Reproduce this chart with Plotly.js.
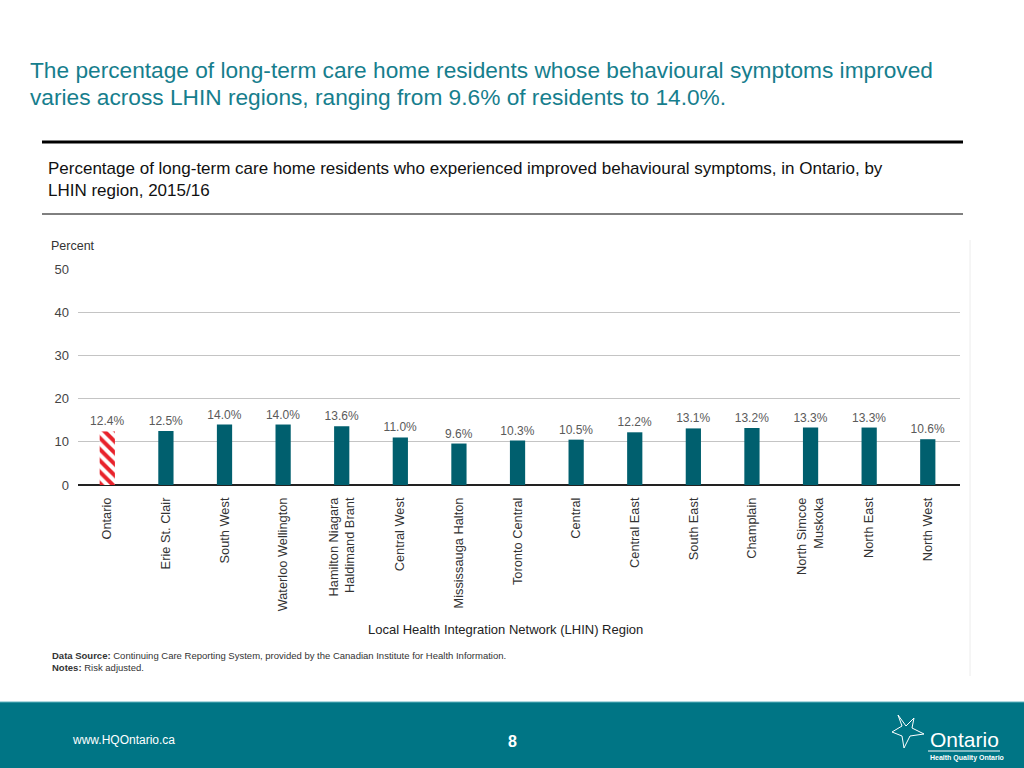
<!DOCTYPE html>
<html>
<head>
<meta charset="utf-8">
<script src="https://cdn.plot.ly/plotly-3.0.1.min.js"></script>
<style>html,body{margin:0;padding:0;background:#fff;}#chart{width:1024px;height:768px;}</style>
</head>
<body>
<div id="chart"></div>
<script>
const categories = ["Ontario","Erie St. Clair","South West","Waterloo Wellington","Hamilton Niagara<br>Haldimand Brant","Central West","Mississauga Halton","Toronto Central","Central","Central East","South East","Champlain","North Simcoe<br>Muskoka","North East","North West"];
const values = [12.4,12.5,14.0,14.0,13.6,11.0,9.6,10.3,10.5,12.2,13.1,13.2,13.3,13.3,10.6];
const valueLabels = ["12.4%","12.5%","14.0%","14.0%","13.6%","11.0%","9.6%","10.3%","10.5%","12.2%","13.1%","13.2%","13.3%","13.3%","10.6%"];
const yTicks = [0,10,20,30,40,50];
const titleLines = ["The percentage of long-term care home residents whose behavioural symptoms improved",
                    "varies across LHIN regions, ranging from 9.6% of residents to 14.0%."];

const L = 78, R = 960, T = 269, B = 485;
const px = x => (x - L) / (R - L);
const py = y => (B - y) / (B - T);

const font = "Liberation Sans, Arial, sans-serif";
const teal = "#005f6e";
const labelFont = {family: font, size: 12, color: "#5a5a5a"};

const ontarioTrace = {
  type: "bar",
  x: categories.slice(0, 1),
  y: values.slice(0, 1),
  text: valueLabels.slice(0, 1),
  textposition: "outside", constraintext: "none", cliponaxis: false,
  textfont: labelFont,
  width: 0.26,
  marker: {
    color: "#ffffff",
    line: {width: 0},
    pattern: {shape: "\\", fillmode: "replace", fgcolor: "#e8222b", bgcolor: "#ffffff", size: 8, solidity: 0.5}
  },
  hoverinfo: "skip"
};

const regionTrace = {
  type: "bar",
  x: categories.slice(1),
  y: values.slice(1),
  text: valueLabels.slice(1),
  textposition: "outside", constraintext: "none", cliponaxis: false,
  textfont: labelFont,
  width: 0.26,
  marker: {color: teal, line: {width: 0}},
  hoverinfo: "skip"
};

const layout = {
  width: 1024, height: 768,
  margin: {l: L, r: 1024 - R, t: T, b: 768 - B, pad: 0},
  paper_bgcolor: "#ffffff", plot_bgcolor: "#ffffff",
  showlegend: false,
  barmode: "overlay",
  font: {family: font, color: "#333333"},
  xaxis: {
    type: "category",
    categoryorder: "array", categoryarray: categories,
    range: [-0.5, 14.55],
    tickangle: -90,
    tickfont: {family: font, size: 12.8, color: "#333333"},
    ticks: "", ticklabelstandoff: 9,
    showgrid: false, zeroline: false, showline: false,
    automargin: false, fixedrange: true
  },
  yaxis: {
    range: [0, 50],
    tickvals: yTicks,
    ticktext: yTicks.map(String),
    tickfont: {family: font, size: 13, color: "#444444"},
    ticks: "", ticklabelstandoff: 8,
    showgrid: true, gridcolor: "#c4c4c4", gridwidth: 1,
    zeroline: true, zerolinecolor: "#222222", zerolinewidth: 2,
    showline: false, automargin: false, fixedrange: true
  },
  shapes: [
    {type: "line", xref: "paper", yref: "paper", x0: px(42), x1: px(963), y0: py(142), y1: py(142), line: {color: "#000000", width: 3}},
    {type: "line", xref: "paper", yref: "paper", x0: px(42), x1: px(963), y0: py(214), y1: py(214), line: {color: "#000000", width: 1}},
    {type: "line", xref: "paper", yref: "paper", x0: px(970), x1: px(970), y0: py(240), y1: py(676), line: {color: "#ececec", width: 1}},
    {type: "rect", xref: "paper", yref: "paper", x0: px(-2), x1: px(1026), y0: py(702), y1: py(770), fillcolor: "#007585", line: {width: 0}, layer: "below"},
    {type: "line", xref: "paper", yref: "paper", x0: px(0), x1: px(1024), y0: py(702), y1: py(702), line: {color: "#5fb3bf", width: 1}},
    {type: "line", xref: "paper", yref: "paper", x0: px(928), x1: px(1000), y0: py(751), y1: py(751), line: {color: "#ffffff", width: 1}},
    {type: "path", xref: "paper", yref: "paper",
     path: "M " + px(898) + "," + py(715) + " L " + px(906) + "," + py(726) + " L " + px(914) + "," + py(718) +
           " L " + px(912) + "," + py(728) + " L " + px(924) + "," + py(734) + " L " + px(910) + "," + py(736) +
           " L " + px(904) + "," + py(748) + " L " + px(902) + "," + py(736) + " L " + px(892) + "," + py(732) +
           " L " + px(902) + "," + py(726) + " Z",
     line: {color: "#ffffff", width: 1}, fillcolor: "rgba(0,0,0,0)"}
  ],
  annotations: [
    {text: titleLines[0], xref: "paper", yref: "paper", x: px(28), y: py(70), xanchor: "left", yanchor: "middle", align: "left", showarrow: false,
     font: {family: font, size: 22.7, color: "#167e8d"}},
    {text: titleLines[1], xref: "paper", yref: "paper", x: px(28), y: py(97), xanchor: "left", yanchor: "middle", align: "left", showarrow: false,
     font: {family: font, size: 22.7, color: "#167e8d"}},
    {text: "Percentage of long-term care home residents who experienced improved behavioural symptoms, in Ontario, by<br>LHIN region, 2015/16",
     xref: "paper", yref: "paper", x: px(46), y: py(157), xanchor: "left", yanchor: "top", align: "left", showarrow: false,
     font: {family: font, size: 17, color: "#111111"}},
    {text: "Percent", xref: "paper", yref: "paper", x: px(49), y: py(246), xanchor: "left", yanchor: "middle", showarrow: false,
     font: {family: font, size: 12.5, color: "#333333"}},
    {text: "Local Health Integration Network (LHIN) Region", xref: "paper", yref: "paper", x: px(505), y: py(629), xanchor: "center", yanchor: "middle", showarrow: false,
     font: {family: font, size: 13, color: "#222222"}},
    {text: "<b>Data Source:</b> Continuing Care Reporting System, provided by the Canadian Institute for Health Information.", xref: "paper", yref: "paper", x: px(50), y: py(655), xanchor: "left", yanchor: "middle", showarrow: false,
     font: {family: font, size: 9.5, color: "#333333"}},
    {text: "<b>Notes:</b> Risk adjusted.", xref: "paper", yref: "paper", x: px(50), y: py(667), xanchor: "left", yanchor: "middle", showarrow: false,
     font: {family: font, size: 9.5, color: "#333333"}},
    {text: "www.HQOntario.ca", xref: "paper", yref: "paper", x: px(70), y: py(740), xanchor: "left", yanchor: "middle", showarrow: false,
     font: {family: font, size: 12, color: "#ffffff"}},
    {text: "<b>8</b>", xref: "paper", yref: "paper", x: px(512), y: py(741), xanchor: "center", yanchor: "middle", showarrow: false,
     font: {family: font, size: 16, color: "#ffffff"}},
    {text: "Ontario", xref: "paper", yref: "paper", x: px(928), y: py(739), xanchor: "left", yanchor: "middle", showarrow: false,
     font: {family: "Liberation Sans Narrow, Arial Narrow, sans-serif", size: 21, color: "#ffffff"}},
    {text: "<b>Health Quality Ontario</b>", xref: "paper", yref: "paper", x: px(928), y: py(758), xanchor: "left", yanchor: "middle", showarrow: false,
     font: {family: "Liberation Sans Narrow, sans-serif", size: 7, color: "#ffffff"}}
  ]
};

Plotly.newPlot("chart", [ontarioTrace, regionTrace], layout, {staticPlot: true, displayModeBar: false});
</script>
</body>
</html>
